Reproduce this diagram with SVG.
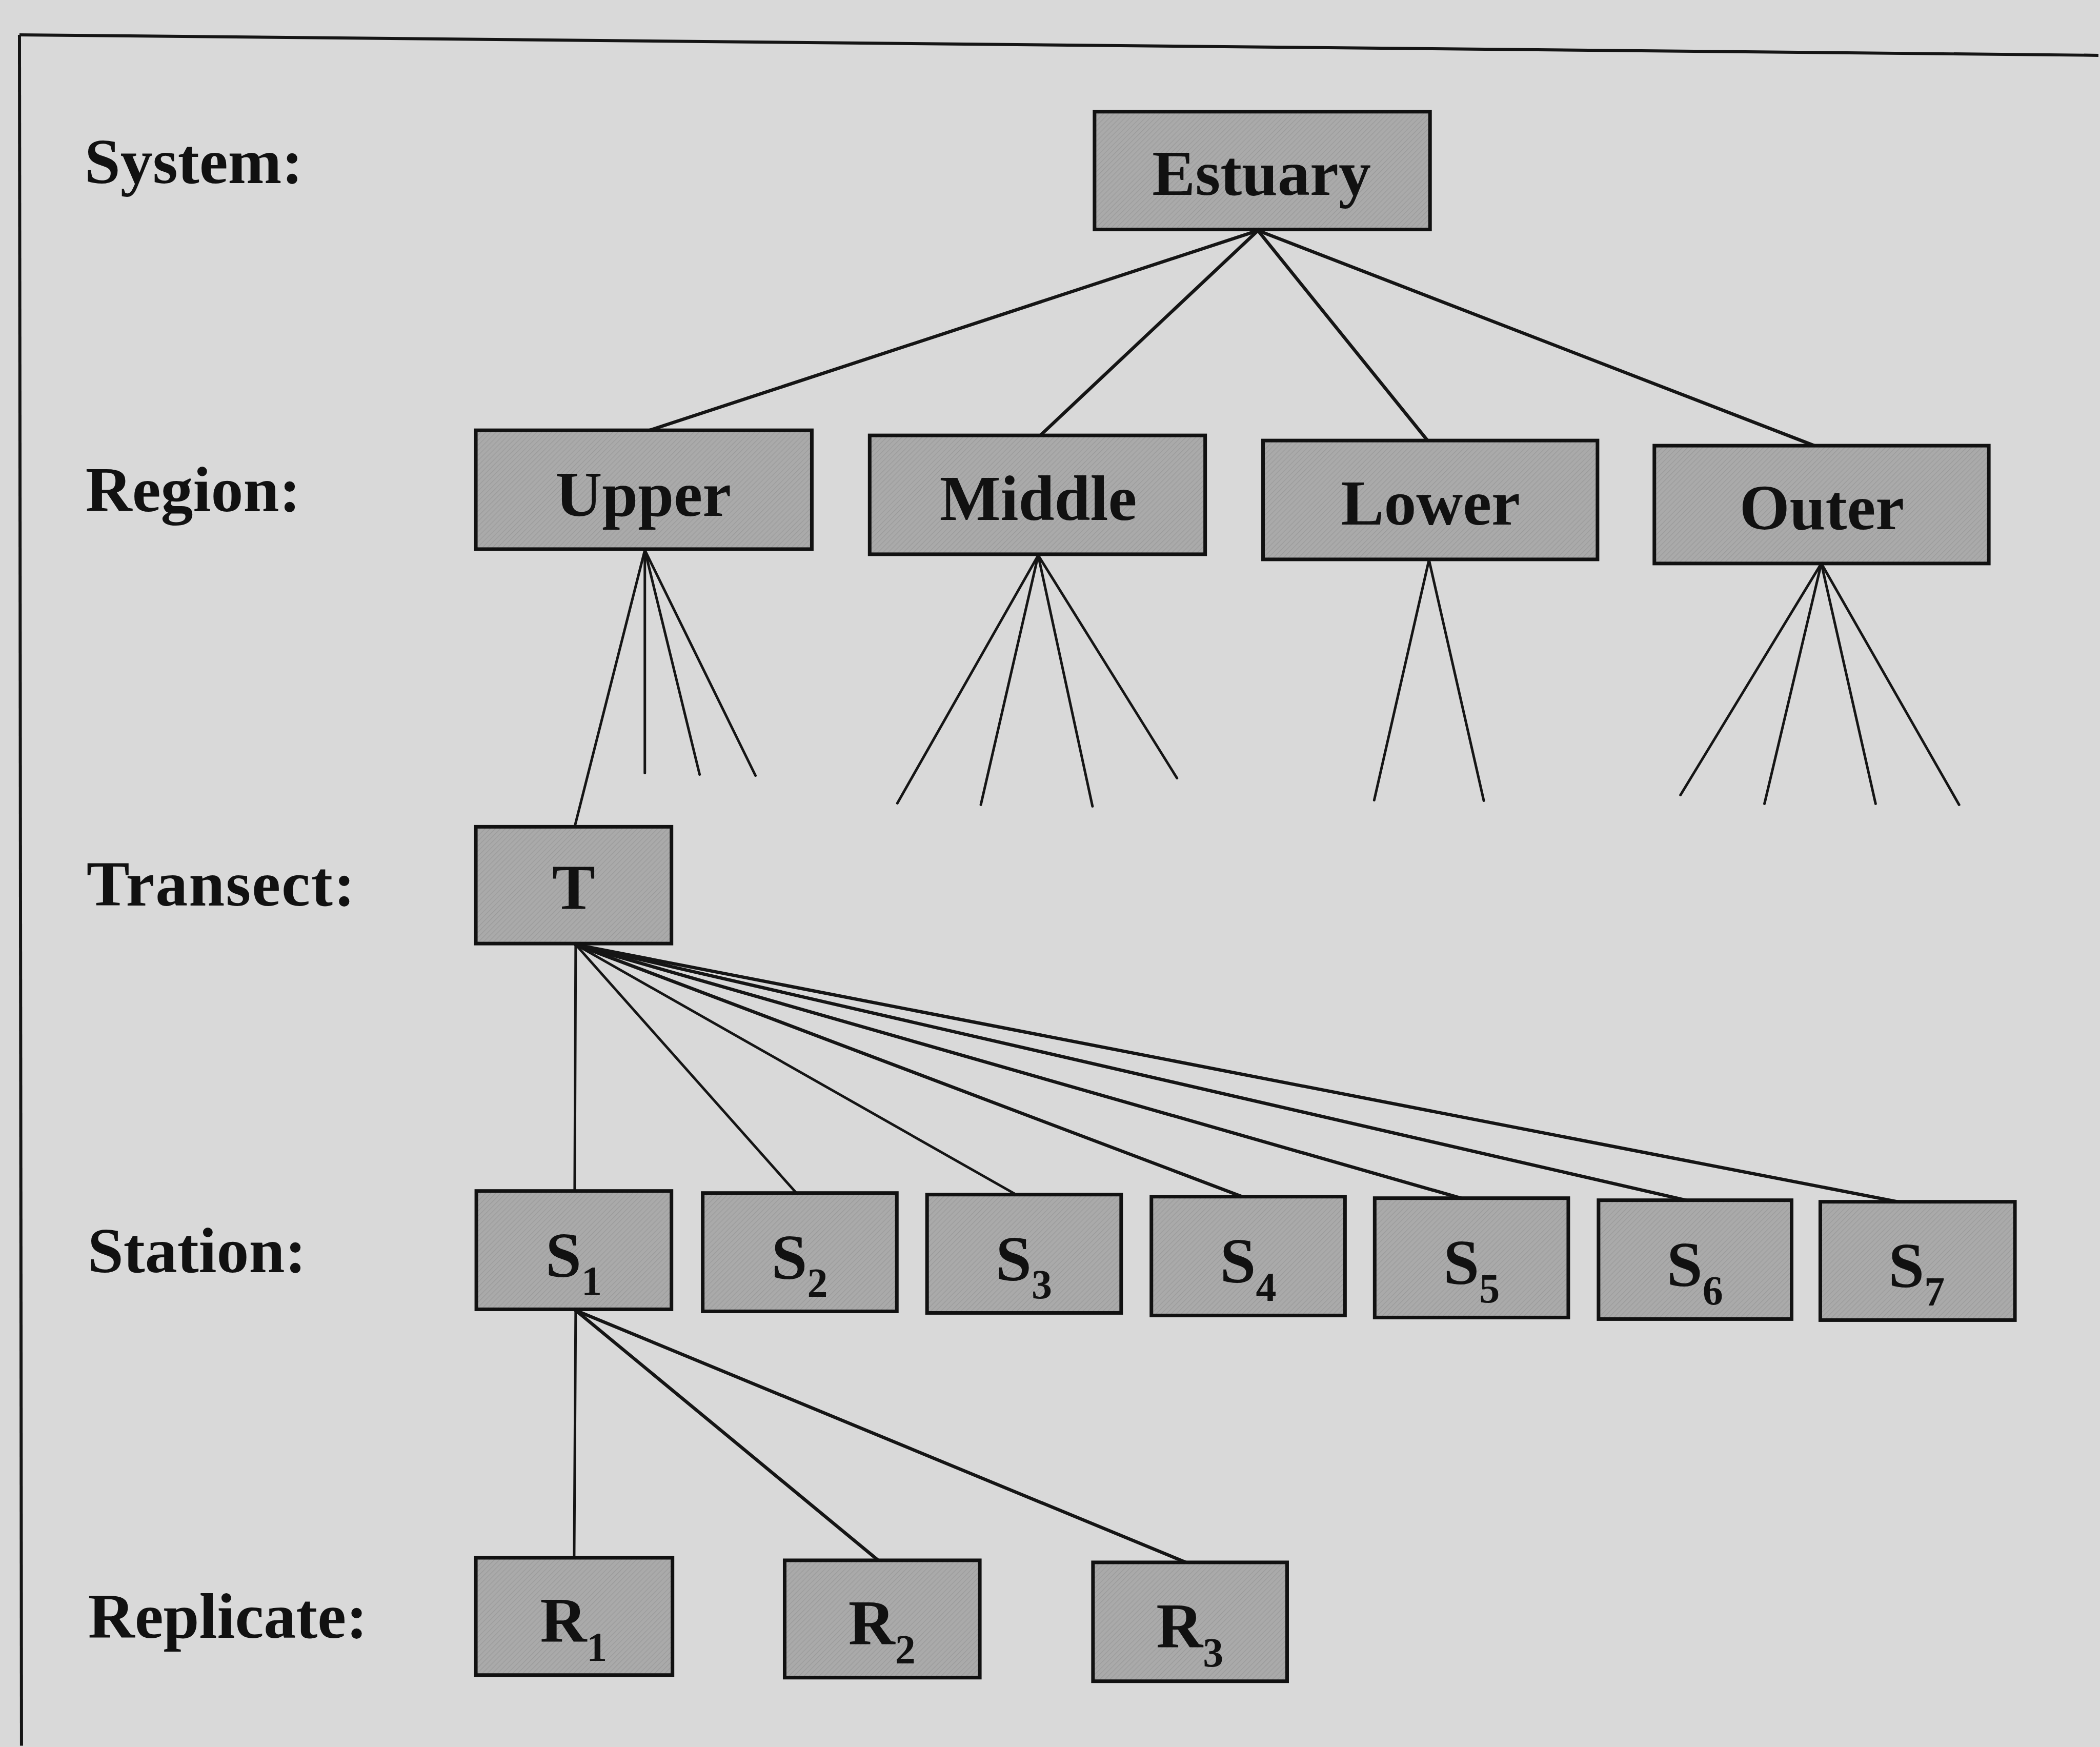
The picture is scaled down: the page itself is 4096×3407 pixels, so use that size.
<svg xmlns="http://www.w3.org/2000/svg" width="4096" height="3407" viewBox="0 0 4096 3407">
<defs>
<pattern id="hatch" patternUnits="userSpaceOnUse" width="7" height="7" patternTransform="rotate(45)">
<rect width="7" height="7" fill="#aaaaaa"/>
<line x1="0" y1="0" x2="0" y2="7" stroke="#9a9a9a" stroke-width="2.5"/>
</pattern>
<style>
.box{fill:url(#hatch);stroke:#111111;stroke-width:7}
.lbl{font-family:"Liberation Serif","Times New Roman",serif;font-weight:bold;font-size:126px;fill:#111111}
.ntxt{font-family:"Liberation Serif","Times New Roman",serif;font-weight:bold;font-size:126px;fill:#111111;text-anchor:middle}
.sub{font-size:80px}
.ln{stroke:#151515;stroke-width:5;fill:none;stroke-linecap:round}
.ln5{stroke-width:6.5}
.frame{stroke:#151515;stroke-width:6;fill:none}
</style>
</defs>
<rect width="4096" height="3407" fill="#d9d9d9"/>
<g transform="scale(0.999)">
<g id="frame">
<line class="frame" x1="38" y1="68" x2="4097" y2="108"/>
<line class="frame" x1="38" y1="68" x2="42" y2="3408"/>
</g>
<g id="level-labels">
<text class="lbl" x="165" y="357">System:</text>
<text class="lbl" x="167" y="998">Region:</text>
<text class="lbl" x="169" y="1768" letter-spacing="2">Transect:</text>
<text class="lbl" x="171" y="2483">Station:</text>
<text class="lbl" x="172" y="3197">Replicate:</text>
</g>
<g id="connectors">
<line class="ln ln5" x1="2456" y1="450" x2="1262" y2="842"/>
<line class="ln ln5" x1="2456" y1="450" x2="2030" y2="851"/>
<line class="ln ln5" x1="2456" y1="450" x2="2788" y2="861"/>
<line class="ln ln5" x1="2456" y1="450" x2="3545" y2="871"/>
<line class="ln" x1="1259" y1="1074" x2="1122" y2="1614"/>
<line class="ln" x1="1259" y1="1074" x2="1259" y2="1509"/>
<line class="ln" x1="1259" y1="1074" x2="1366" y2="1512"/>
<line class="ln" x1="1259" y1="1074" x2="1475" y2="1514"/>
<line class="ln" x1="2027" y1="1084" x2="1752" y2="1568"/>
<line class="ln" x1="2027" y1="1084" x2="1915" y2="1571"/>
<line class="ln" x1="2027" y1="1084" x2="2133" y2="1574"/>
<line class="ln" x1="2027" y1="1084" x2="2298" y2="1519"/>
<line class="ln" x1="2790" y1="1093" x2="2683" y2="1562"/>
<line class="ln" x1="2790" y1="1093" x2="2897" y2="1563"/>
<line class="ln" x1="3556" y1="1100" x2="3281" y2="1552"/>
<line class="ln" x1="3556" y1="1100" x2="3445" y2="1569"/>
<line class="ln" x1="3556" y1="1100" x2="3662" y2="1569"/>
<line class="ln" x1="3556" y1="1100" x2="3825" y2="1571"/>
<line class="ln" x1="1124" y1="1844" x2="1122" y2="2326"/>
<line class="ln" x1="1124" y1="1844" x2="1554" y2="2328"/>
<line class="ln" x1="1124" y1="1844" x2="1982" y2="2331"/>
<line class="ln ln5" x1="1124" y1="1844" x2="2428" y2="2337"/>
<line class="ln ln5" x1="1124" y1="1844" x2="2856" y2="2340"/>
<line class="ln ln5" x1="1124" y1="1844" x2="3296" y2="2344"/>
<line class="ln ln5" x1="1124" y1="1844" x2="3710" y2="2347"/>
<line class="ln" x1="1124" y1="2558" x2="1121" y2="3042"/>
<line class="ln ln5" x1="1124" y1="2558" x2="1716" y2="3047"/>
<line class="ln ln5" x1="1124" y1="2558" x2="2318" y2="3051"/>
</g>
<g id="node-estuary"><rect class="box" x="2137" y="218" width="655" height="230"/><text class="ntxt" x="2463" y="380">Estuary</text></g>
<g id="node-upper"><rect class="box" x="929" y="840" width="656" height="232"/><text class="ntxt" x="1256" y="1007">Upper</text></g>
<g id="node-middle"><rect class="box" x="1698" y="850" width="655" height="232"/><text class="ntxt" x="2027" y="1015">Middle</text></g>
<g id="node-lower"><rect class="box" x="2466" y="860" width="653" height="232"/><text class="ntxt" x="2793" y="1024">Lower</text></g>
<g id="node-outer"><rect class="box" x="3230" y="870" width="653" height="230"/><text class="ntxt" x="3557" y="1033">Outer</text></g>
<g id="node-t"><rect class="box" x="929" y="1614" width="382" height="228"/><text class="ntxt" x="1120" y="1775">T</text></g>
<g id="node-s1"><rect class="box" x="930" y="2325" width="381" height="231"/><text class="ntxt" x="1120" y="2492">S<tspan class="sub" dy="36">1</tspan></text></g>
<g id="node-s2"><rect class="box" x="1372" y="2329" width="379" height="231"/><text class="ntxt" x="1561" y="2496">S<tspan class="sub" dy="36">2</tspan></text></g>
<g id="node-s3"><rect class="box" x="1810" y="2332" width="379" height="231"/><text class="ntxt" x="1999" y="2499">S<tspan class="sub" dy="36">3</tspan></text></g>
<g id="node-s4"><rect class="box" x="2248" y="2336" width="378" height="232"/><text class="ntxt" x="2437" y="2504">S<tspan class="sub" dy="36">4</tspan></text></g>
<g id="node-s5"><rect class="box" x="2684" y="2339" width="378" height="233"/><text class="ntxt" x="2873" y="2507">S<tspan class="sub" dy="36">5</tspan></text></g>
<g id="node-s6"><rect class="box" x="3121" y="2343" width="377" height="232"/><text class="ntxt" x="3309" y="2511">S<tspan class="sub" dy="36">6</tspan></text></g>
<g id="node-s7"><rect class="box" x="3554" y="2346" width="380" height="231"/><text class="ntxt" x="3742" y="2513">S<tspan class="sub" dy="36">7</tspan></text></g>
<g id="node-r1"><rect class="box" x="929" y="3041" width="384" height="229"/><text class="ntxt" x="1120" y="3205">R<tspan class="sub" dy="37">1</tspan></text></g>
<g id="node-r2"><rect class="box" x="1532" y="3046" width="381" height="229"/><text class="ntxt" x="1722" y="3210">R<tspan class="sub" dy="37">2</tspan></text></g>
<g id="node-r3"><rect class="box" x="2134" y="3050" width="379" height="232"/><text class="ntxt" x="2323" y="3216">R<tspan class="sub" dy="37">3</tspan></text></g>
</g>
</svg>
